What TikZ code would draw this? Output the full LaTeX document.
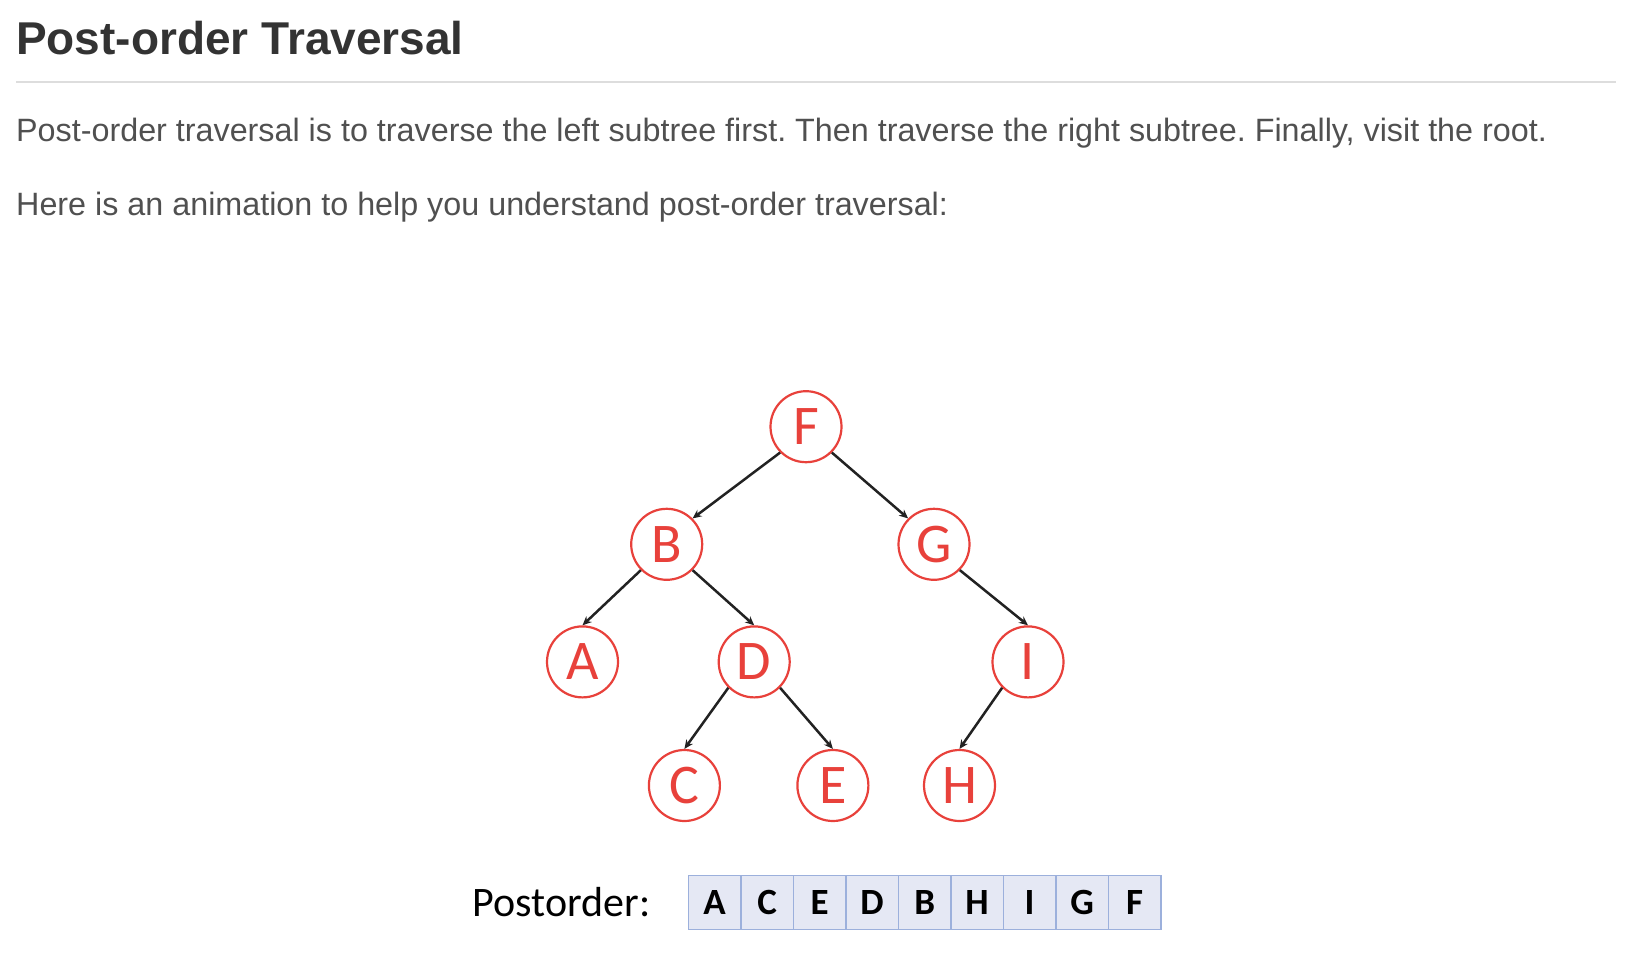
\documentclass[tikz,border=0pt]{standalone}
\usepackage{fontspec}
\setmainfont{Liberation Sans}
\newfontfamily\calfont{Carlito}
\usetikzlibrary{arrows.meta, positioning}
\frenchspacing
\definecolor{nodered}{HTML}{E8413B}
\definecolor{cellfill}{HTML}{E5E8F4}
\definecolor{cellline}{HTML}{9CB0DC}
\definecolor{bodygray}{HTML}{505050}
\definecolor{headgray}{HTML}{333333}
\definecolor{rulegray}{HTML}{DDDDDD}
\definecolor{edgegray}{HTML}{222222}
\tikzstyle{treenode} = [circle, 
minimum size=71pt, 
inner sep=0pt, 
draw=nodered, 
line width=2.2pt, 
fill=white, 
text=nodered, 
font=\calfont\fontsize{56}{56}\selectfont]
\tikzstyle{cellbox} = [rectangle, 
minimum width=52.5pt, 
minimum height=54pt, 
inner sep=0pt, 
draw=cellline, 
line width=1.4pt, 
fill=cellfill, 
font=\calfont\bfseries\fontsize{37}{37}\selectfont]
\tikzstyle{para} = [anchor=base west, inner sep=0pt, text=bodygray, 
font=\fontsize{32.3}{38}\selectfont]
\tikzstyle{arrow} = [edgegray, line width=2.5pt,->,>={Stealth[length=9pt,width=8pt]}]

\begin{document}
\begin{tikzpicture}[x=1pt, y=1pt, node distance=117.6pt]
\useasboundingbox (0,0) rectangle (1628,-966);

% page text
\node (title) [anchor=base west, inner sep=0pt, text=headgray, 
font=\bfseries\fontsize{46}{50}\selectfont] at (16,-55) {Post-order Traversal};
\coordinate (ruleL) at (16,-82);
\coordinate (ruleR) at (1616,-82);
\draw [rulegray, line width=2pt] (ruleL) -- (ruleR);
\node (intro) [para] at (16,-141) {Post-order traversal is to traverse the left subtree first. Then traverse the right subtree. Finally, visit the root.};
\node (hint) [para] at (16,-215) {Here is an animation to help you understand post-order traversal:};

% the tree
\node (F) [treenode] at (806,-426.7) {F};
\node (B) [treenode, below of=F, xshift=-139.3pt] {B};
\node (G) [treenode, below of=F, xshift=128pt] {G};
\node (A) [treenode, below of=B, xshift=-84.2pt] {A};
\node (D) [treenode, below of=B, xshift=87.5pt] {D};
\node (I) [treenode, below of=G, xshift=94pt] {I};
\node (C) [treenode, below of=D, xshift=-69.8pt, yshift=-6pt] {C};
\node (E) [treenode, below of=D, xshift=78.7pt, yshift=-6pt] {E};
\node (H) [treenode, below of=I, xshift=-68.5pt, yshift=-6pt] {H};

\draw [arrow] (F.south west) -- (B.north east);
\draw [arrow] (F.south east) -- (G.north west);
\draw [arrow] (B.south west) -- (A.north);
\draw [arrow] (B.south east) -- (D.north);
\draw [arrow] (D.south west) -- (C.north);
\draw [arrow] (D.south east) -- (E.north);
\draw [arrow] (G.south east) -- (I.north);
\draw [arrow] (I.south west) -- (H.north);

% the result row
\foreach \l [count=\i] in {A,C,E,D,B,H,I,G,F}
  \node (cell\i) [cellbox] at ({714.65+52.5*(\i-1)},-902.3) {\l};
\node (label) [left=37pt of cell1, inner sep=0pt, 
font=\calfont\fontsize{42}{42}\selectfont] {Postorder:};

\end{tikzpicture}
\end{document}
